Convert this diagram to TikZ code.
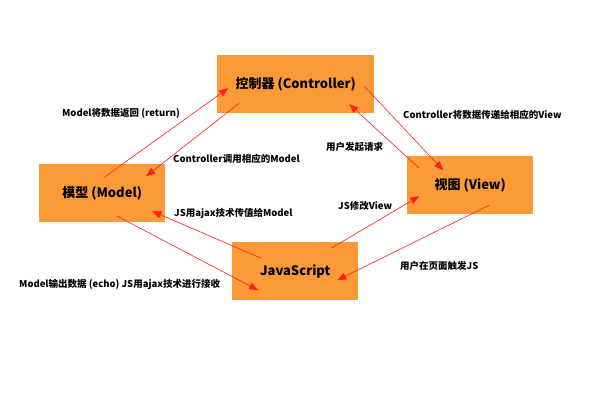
\documentclass[tikz,border=0pt]{standalone}
\usepackage{fontspec}
\setmainfont{Noto Sans CJK SC}
\usetikzlibrary{calc,arrows.meta}
\definecolor{boxorange}{RGB}{253,154,56}
\definecolor{arrowred}{RGB}{255,30,30}
\begin{document}
\begin{tikzpicture}[x=1pt,y=-1pt,
  box/.style={rectangle,fill=boxorange,anchor=north west,inner sep=0pt,
    font=\fontsize{13}{15}\selectfont\bfseries},
  lbl/.style={inner sep=0pt,font=\fontsize{9.5}{11}\selectfont\bfseries},
  arr/.style={draw=arrowred,line width=0.6pt,-{Triangle[length=9pt,width=7pt]}}]
\useasboundingbox (0,0) rectangle (600,418);
\fill[white] (0,0) rectangle (600,418);
\node[box,minimum width=157pt,minimum height=58pt] (ctrl) at (217,55) {控制器 (Controller)};
\node[box,minimum width=126pt,minimum height=58pt] (model) at (39,164) {模型 (Model)};
\node[box,minimum width=126pt,minimum height=58pt] (view) at (407,156) {视图 (View)};
\node[box,minimum width=126pt,minimum height=58pt] (js) at (232,242) {JavaScript};
% connectors
\draw[arr] ($(model.center)+(2,-16)$) -- ($(ctrl.center)+(-67.5,4)$);
\draw[arr] ($(ctrl.center)+(-56.5,19)$) -- ($(model.center)+(44,-17)$);
\draw[arr] ($(ctrl.center)+(68.5,2)$) -- ($(view.center)+(-27,-15)$);
\draw[arr] ($(view.center)+(-51,-17)$) -- ($(ctrl.center)+(53.5,20)$);
\draw[arr] ($(js.center)+(36,-23)$) -- ($(view.center)+(-51,11)$);
\draw[arr] ($(view.center)+(19,20)$) -- ($(js.center)+(42,9)$);
\draw[arr] ($(js.center)+(-34,-13)$) -- ($(model.center)+(50,18)$);
\draw[arr] ($(model.center)+(15,23)$) -- ($(js.center)+(-37,19)$);
% labels
\node[lbl] (l1) at (121,113) {Model将数据返回 (return)};
\node[lbl,anchor=west] (l2) at (173,159) {Controller调用相应的Model};
\node[lbl,anchor=west] (l3) at (174,213) {JS用ajax技术传值给Model};
\node[lbl,anchor=west] (l4) at (19,284) {Model输出数据 (echo) JS用ajax技术进行接收};
\node[lbl,anchor=west] (l5) at (403,115) {Controller将数据传递给相应的View};
\node[lbl,anchor=west] (l6) at (326,147) {用户发起请求};
\node[lbl,anchor=west] (l7) at (338,206) {JS修改View};
\node[lbl,anchor=west] (l8) at (400,266) {用户在页面触发JS};
\end{tikzpicture}
\end{document}
